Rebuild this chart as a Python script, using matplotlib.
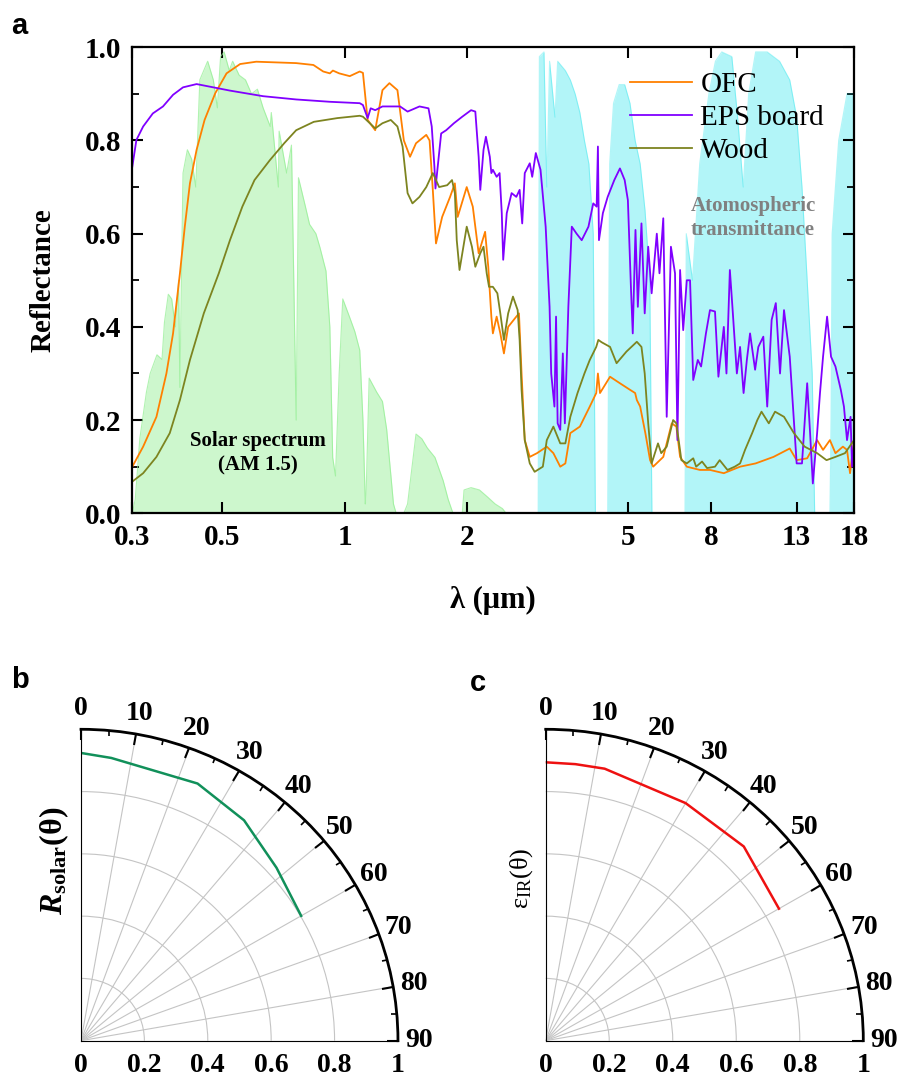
import numpy as np
import matplotlib
matplotlib.use('Agg')
import matplotlib.pyplot as plt
import matplotlib.transforms as mtransforms
from matplotlib.ticker import NullLocator, MultipleLocator

plt.rcParams['font.family'] = 'Liberation Serif'
plt.rcParams['mathtext.fontset'] = 'custom'
plt.rcParams['mathtext.rm'] = 'Liberation Serif'
plt.rcParams['mathtext.it'] = 'Liberation Serif:italic'
plt.rcParams['mathtext.bf'] = 'Liberation Serif:bold'
plt.rcParams['mathtext.bfit'] = 'Liberation Serif:bold:italic'

# ---- panel a: spectra ----
solar_wl = [0.300, 0.305, 0.313, 0.325, 0.332, 0.345, 0.355, 0.360, 0.368, 0.375, 0.383, 0.390,
            0.393, 0.397, 0.400, 0.410, 0.420, 0.430, 0.440, 0.460, 0.475, 0.486, 0.495, 0.505,
            0.520, 0.530, 0.550, 0.570, 0.590, 0.610, 0.630, 0.656, 0.660, 0.687, 0.690, 0.720,
            0.740, 0.760, 0.770, 0.800, 0.820, 0.850, 0.870, 0.900, 0.920, 0.935, 0.950, 0.970,
            0.990, 1.030, 1.060, 1.090, 1.110, 1.125, 1.130, 1.150, 1.200, 1.240, 1.270, 1.320,
            1.340, 1.400, 1.430, 1.500, 1.550, 1.600, 1.670, 1.750, 1.800, 1.850, 1.950, 1.970,
            2.050, 2.150, 2.250, 2.350, 2.450, 2.500, 18.0]
solar_val = [0.0, 0.03, 0.16, 0.26, 0.30, 0.34, 0.33, 0.41, 0.47, 0.46, 0.40, 0.50,
             0.27, 0.55, 0.73, 0.78, 0.76, 0.70, 0.93, 0.97, 0.93, 0.87, 0.98, 0.99,
             0.95, 0.97, 0.94, 0.93, 0.90, 0.91, 0.87, 0.83, 0.86, 0.70, 0.82, 0.73,
             0.79, 0.20, 0.72, 0.66, 0.62, 0.60, 0.57, 0.52, 0.40, 0.12, 0.08, 0.30,
             0.46, 0.42, 0.39, 0.35, 0.20, 0.02, 0.04, 0.29, 0.26, 0.24, 0.18, 0.02,
             0.0, 0.0, 0.02, 0.17, 0.16, 0.14, 0.12, 0.07, 0.03, 0.0, 0.0, 0.05,
             0.055, 0.05, 0.035, 0.02, 0.01, 0.0, 0.0]

atm_wl = [2.95, 3.00, 3.02, 3.10, 3.15, 3.20, 3.30, 3.35, 3.50, 3.60, 3.70, 3.80, 3.90, 4.00,
          4.10, 4.15, 4.45, 4.50, 4.60, 4.75, 4.90, 5.05, 5.20, 5.35, 5.50, 5.65, 5.72,
          6.90, 6.95, 7.20, 7.50, 7.90, 8.20, 8.50, 9.00, 9.30, 9.60, 9.90, 10.3, 11.0,
          11.8, 12.5, 13.0, 13.4, 13.8, 14.2, 14.4, 15.7, 15.8, 15.9, 16.5, 17.3, 18.0]
atm_val = [0.0, 0.0, 0.98, 0.99, 0.70, 0.97, 0.85, 0.97, 0.95, 0.93, 0.90, 0.86, 0.80, 0.75,
           0.60, 0.0, 0.0, 0.75, 0.88, 0.92, 0.92, 0.88, 0.80, 0.75, 0.65, 0.50, 0.0,
           0.0, 0.60, 0.50, 0.75, 0.90, 0.97, 0.99, 0.98, 0.85, 0.70, 0.90, 0.99, 0.99,
           0.97, 0.93, 0.85, 0.70, 0.50, 0.30, 0.0, 0.0, 0.20, 0.60, 0.80, 0.90, 0.90]

ofc_wl = [0.300, 0.319, 0.344, 0.364, 0.378, 0.393, 0.404, 0.416, 0.432, 0.452, 0.480, 0.512,
          0.553, 0.606, 0.760, 0.838, 0.886, 0.920, 0.936, 0.970, 1.03, 1.09, 1.11, 1.14,
          1.19, 1.24, 1.29, 1.35, 1.40, 1.45, 1.50, 1.59, 1.62, 1.65, 1.68, 1.74, 1.82,
          1.87, 1.90, 2.00, 2.07, 2.14, 2.22, 2.26, 2.30, 2.32, 2.37, 2.42, 2.47, 2.53,
          2.65, 2.69, 2.73, 2.78, 2.86, 2.98, 3.15, 3.27, 3.40, 3.50, 3.60, 3.80, 4.02,
          4.17, 4.21, 4.26, 4.51, 4.77, 5.05, 5.20, 5.25, 5.35, 5.51, 5.66, 5.76, 6.10,
          6.40, 6.57, 6.71, 6.97, 7.51, 7.95, 8.60, 9.43, 10.3, 11.4, 12.5, 13.0, 13.8,
          14.6, 15.1, 15.7, 16.2, 16.9, 17.3, 17.6, 18.0]
ofc_r = [0.100, 0.143, 0.207, 0.300, 0.386, 0.515, 0.615, 0.708, 0.780, 0.844, 0.901, 0.944,
         0.964, 0.969, 0.966, 0.962, 0.948, 0.944, 0.950, 0.944, 0.938, 0.948, 0.945, 0.844,
         0.822, 0.908, 0.923, 0.908, 0.800, 0.765, 0.794, 0.812, 0.800, 0.694, 0.579, 0.636,
         0.679, 0.708, 0.636, 0.700, 0.658, 0.558, 0.604, 0.529, 0.422, 0.386, 0.422, 0.386,
         0.343, 0.400, 0.422, 0.429, 0.300, 0.157, 0.121, 0.129, 0.143, 0.129, 0.100, 0.107,
         0.172, 0.186, 0.229, 0.258, 0.300, 0.258, 0.293, 0.279, 0.265, 0.258, 0.243, 0.229,
         0.172, 0.114, 0.100, 0.121, 0.193, 0.186, 0.121, 0.100, 0.093, 0.093, 0.086, 0.100,
         0.107, 0.121, 0.139, 0.114, 0.118, 0.157, 0.136, 0.157, 0.129, 0.143, 0.136, 0.086,
         0.157]

eps_wl = [0.300, 0.307, 0.319, 0.337, 0.357, 0.378, 0.400, 0.432, 0.456, 0.522, 0.630, 0.760,
          0.920, 1.03, 1.09, 1.11, 1.14, 1.16, 1.19, 1.24, 1.37, 1.43, 1.53, 1.61, 1.64,
          1.665, 1.675, 1.69, 1.73, 1.78, 1.86, 1.95, 2.05, 2.10, 2.14, 2.16, 2.20, 2.23,
          2.28, 2.30, 2.32, 2.37, 2.41, 2.44, 2.46, 2.51, 2.58, 2.65, 2.70, 2.74, 2.78,
          2.86, 2.90, 2.96, 3.04, 3.13, 3.20, 3.23, 3.26, 3.29, 3.32, 3.35, 3.40, 3.45,
          3.49, 3.56, 3.63, 3.73, 3.84, 3.99, 4.10, 4.18, 4.21, 4.235, 4.33, 4.45, 4.62,
          4.77, 4.90, 4.99, 5.08, 5.13, 5.21, 5.28, 5.39, 5.49, 5.60, 5.71, 5.88, 5.97,
          6.10, 6.22, 6.37, 6.52, 6.61, 6.71, 6.83, 6.97, 7.10, 7.23, 7.42, 7.56, 7.77,
          7.95, 8.18, 8.34, 8.60, 8.73, 8.90, 9.03, 9.26, 9.43, 9.62, 9.80, 9.98, 10.27,
          10.46, 10.76, 11.0, 11.28, 11.55, 11.83, 12.1, 12.5, 13.0, 13.4, 13.8, 14.03,
          14.25, 14.6, 14.84, 15.1, 15.45, 15.8, 16.2, 16.7, 17.0, 17.3, 17.65, 17.8, 18.0]
eps_r = [0.744, 0.801, 0.830, 0.858, 0.873, 0.898, 0.914, 0.921, 0.917, 0.907, 0.895, 0.888,
         0.883, 0.881, 0.880, 0.876, 0.848, 0.869, 0.865, 0.873, 0.873, 0.862, 0.873, 0.869,
         0.830, 0.744, 0.697, 0.730, 0.815, 0.822, 0.837, 0.851, 0.865, 0.862, 0.765, 0.694,
         0.780, 0.808, 0.765, 0.730, 0.737, 0.722, 0.730, 0.644, 0.544, 0.644, 0.687, 0.679,
         0.694, 0.622, 0.730, 0.751, 0.722, 0.773, 0.737, 0.615, 0.443, 0.300, 0.265, 0.229,
         0.422, 0.193, 0.179, 0.343, 0.193, 0.443, 0.615, 0.600, 0.586, 0.615, 0.665, 0.658,
         0.787, 0.586, 0.644, 0.679, 0.715, 0.740, 0.715, 0.672, 0.479, 0.386, 0.608, 0.443,
         0.622, 0.429, 0.572, 0.472, 0.600, 0.515, 0.633, 0.207, 0.572, 0.515, 0.157, 0.522,
         0.393, 0.500, 0.500, 0.286, 0.329, 0.315, 0.386, 0.436, 0.433, 0.293, 0.400, 0.300,
         0.522, 0.443, 0.300, 0.357, 0.258, 0.329, 0.386, 0.308, 0.357, 0.379, 0.229, 0.415,
         0.451, 0.300, 0.436, 0.336, 0.107, 0.107, 0.279, 0.172, 0.064, 0.172, 0.258, 0.336,
         0.422, 0.336, 0.315, 0.265, 0.229, 0.157, 0.207, 0.100, 0.150]

wood_wl = [0.300, 0.319, 0.344, 0.371, 0.393, 0.416, 0.450, 0.490, 0.522, 0.560, 0.600, 0.655,
           0.710, 0.760, 0.840, 0.960, 1.09, 1.11, 1.19, 1.24, 1.30, 1.35, 1.39, 1.43, 1.47,
           1.53, 1.59, 1.65, 1.68, 1.71, 1.79, 1.84, 1.87, 1.89, 1.92, 2.00, 2.06, 2.10,
           2.16, 2.20, 2.24, 2.27, 2.32, 2.38, 2.42, 2.47, 2.53, 2.60, 2.67, 2.70, 2.73,
           2.78, 2.86, 2.94, 3.08, 3.15, 3.27, 3.40, 3.50, 3.60, 3.75, 3.90, 4.02, 4.17,
           4.22, 4.30, 4.51, 4.68, 4.95, 5.25, 5.39, 5.49, 5.60, 5.71, 5.92, 6.03, 6.22,
           6.45, 6.57, 6.76, 6.97, 7.23, 7.35, 7.60, 7.82, 8.18, 8.40, 8.78, 9.15, 9.43,
           9.70, 10.1, 10.4, 10.65, 11.1, 11.5, 12.1, 12.8, 13.6, 14.6, 15.4, 16.2, 17.1, 18.0]
wood_r = [0.068, 0.086, 0.121, 0.172, 0.243, 0.329, 0.429, 0.515, 0.586, 0.658, 0.715, 0.758,
          0.794, 0.822, 0.840, 0.848, 0.853, 0.851, 0.826, 0.837, 0.844, 0.830, 0.787, 0.687,
          0.665, 0.679, 0.700, 0.730, 0.715, 0.700, 0.704, 0.715, 0.687, 0.586, 0.522, 0.615,
          0.572, 0.529, 0.558, 0.572, 0.515, 0.486, 0.486, 0.472, 0.429, 0.372, 0.429, 0.465,
          0.436, 0.372, 0.265, 0.157, 0.107, 0.089, 0.100, 0.157, 0.186, 0.150, 0.150, 0.207,
          0.258, 0.300, 0.329, 0.357, 0.372, 0.367, 0.357, 0.322, 0.347, 0.368, 0.357, 0.300,
          0.193, 0.107, 0.150, 0.129, 0.143, 0.200, 0.193, 0.114, 0.107, 0.118, 0.100, 0.111,
          0.097, 0.100, 0.114, 0.093, 0.100, 0.107, 0.136, 0.172, 0.200, 0.218, 0.193, 0.218,
          0.207, 0.172, 0.143, 0.129, 0.114, 0.121, 0.129, 0.157]

xticks = [0.3, 0.5, 1, 2, 5, 8, 13, 18]
xticklabels = ['0.3', '0.5', '1', '2', '5', '8', '13', '18']

# ---- panels b, c: angular ----
b_theta = [0, 6, 24, 36, 48, 60]
b_r = [0.924, 0.913, 0.904, 0.875, 0.830, 0.802]
c_theta = [0, 6, 12, 30, 45, 60]
c_r = [0.894, 0.893, 0.893, 0.881, 0.882, 0.848]
r_ticks = [0, 0.2, 0.4, 0.6, 0.8, 1.0]
r_ticklabels = ['0', '0.2', '0.4', '0.6', '0.8', '1']

fig = plt.figure(figsize=(9.02, 10.79), dpi=100)

ax = fig.add_axes([0.1467, 0.5243, 0.8001, 0.4319])
ax.fill_between(solar_wl, 0, solar_val, color='#90EE90', alpha=0.45, lw=0)
ax.plot(solar_wl, solar_val, color='#90EE90', lw=0.8, alpha=0.7)
ax.fill_between(atm_wl, 0, atm_val, color='#00E0E8', alpha=0.3, lw=0)
ax.plot(atm_wl, atm_val, color='#00E0E8', lw=0.8, alpha=0.3)
ax.plot(ofc_wl, ofc_r, color='#FF8000', lw=1.3, label='OFC')
ax.plot(eps_wl, eps_r, color='#8000FF', lw=1.3, label='EPS board')
ax.plot(wood_wl, wood_r, color='#7D8420', lw=1.3, label='Wood')

ax.set_xscale('log')
ax.set_xlim(0.3, 18)
ax.set_ylim(0, 1.0)
ax.set_xticks(xticks)
ax.set_xticklabels(xticklabels, fontsize=21, fontweight='bold')
ax.xaxis.set_minor_locator(NullLocator())
ax.yaxis.set_major_locator(MultipleLocator(0.2))
ax.yaxis.set_minor_locator(MultipleLocator(0.1))
ax.set_yticks([0, 0.2, 0.4, 0.6, 0.8, 1.0])
ax.set_yticklabels(['0.0', '0.2', '0.4', '0.6', '0.8', '1.0'], fontsize=21, fontweight='bold')
ax.tick_params(axis='both', which='major', direction='in', length=8, width=1.5, pad=8,
               top=True, right=True)
ax.tick_params(axis='y', which='minor', direction='in', length=5, width=1.3, right=True)
for s in ax.spines.values():
    s.set_linewidth(1.6)
ax.set_ylabel('Reflectance', fontsize=21, fontweight='bold', labelpad=20)
ax.set_xlabel('λ (μm)', fontsize=22, fontweight='bold', labelpad=25)

ax.legend(loc='upper left', bbox_to_anchor=(0.69, 0.947), frameon=False, fontsize=21,
          handlelength=2.1, handletextpad=0.3, labelspacing=0.22, borderaxespad=0, borderpad=0)
ax.text(0.86, 0.634, 'Atomospheric\ntransmittance', transform=ax.transAxes, ha='center',
        va='center', fontsize=15, fontweight='bold', color='#808080', linespacing=1.25)
ax.text(0.174, 0.129, 'Solar spectrum\n(AM 1.5)', transform=ax.transAxes, ha='center',
        va='center', fontsize=15, fontweight='bold', color='black', linespacing=1.35)


def quarter_polar(rect, theta, r, color, ylabel, ylabel_xy, ylabel_kw):
    pax = fig.add_axes(rect, projection='polar')
    pax.set_theta_zero_location('N')
    pax.set_theta_direction(-1)
    pax.set_thetamin(0)
    pax.set_thetamax(90)
    pax.set_rlim(0, 1)
    pax.set_aspect('auto')
    pax.plot(np.deg2rad(theta), r, color=color, lw=1.8)
    pax.set_thetagrids(np.arange(0, 91, 10), [str(a) for a in range(0, 91, 10)],
                       fontsize=20, fontweight='bold')
    pax.set_xticks(np.deg2rad(np.arange(5, 90, 10)), minor=True)
    pax.tick_params(axis='x', which='both', top=True, bottom=False)
    pax.tick_params(axis='x', which='major', direction='in', length=8, width=1.5, pad=8)
    pax.tick_params(axis='x', which='minor', direction='in', length=4, width=1.2)
    pax.set_rticks([0.2, 0.4, 0.6, 0.8, 1.0])
    pax.set_yticklabels([])
    pax.tick_params(axis='y', length=0)
    pax.grid(True, color='#c4c4c4', lw=0.8)
    pax.spines['polar'].set_linewidth(2)
    for s in ('start', 'end', 'inner'):
        pax.spines[s].set_visible(False)
    off = mtransforms.offset_copy(pax.transData, fig=fig, x=0, y=-18, units='points')
    for v, lbl in zip(r_ticks, r_ticklabels):
        pax.text(np.deg2rad(90), v, lbl, transform=off, ha='center', va='center',
                 fontsize=20, fontweight='bold', clip_on=False)
    fig.text(ylabel_xy[0], ylabel_xy[1], ylabel, rotation=90, ha='center', va='center',
             **ylabel_kw)
    return pax


quarter_polar([0.0898, 0.0355, 0.3514, 0.2886], b_theta, b_r, '#11905A',
              r'$\mathbfit{R}_{\mathbf{solar}}$(θ)', (0.060, 0.202),
              dict(fontsize=23, fontweight='bold'))
quarter_polar([0.605, 0.0355, 0.3521, 0.2886], c_theta, c_r, '#EE1111',
              r'ε$_{\mathrm{IR}}$(θ)', (0.578, 0.186), dict(fontsize=19))

for lbl, x, y in [('a', 0.021, 0.976), ('b', 0.022, 0.370), ('c', 0.530, 0.367)]:
    fig.text(x, y, lbl, fontsize=21, fontweight='bold', family='Liberation Sans',
             ha='center', va='center')

fig.savefig('out.png', dpi=100)
